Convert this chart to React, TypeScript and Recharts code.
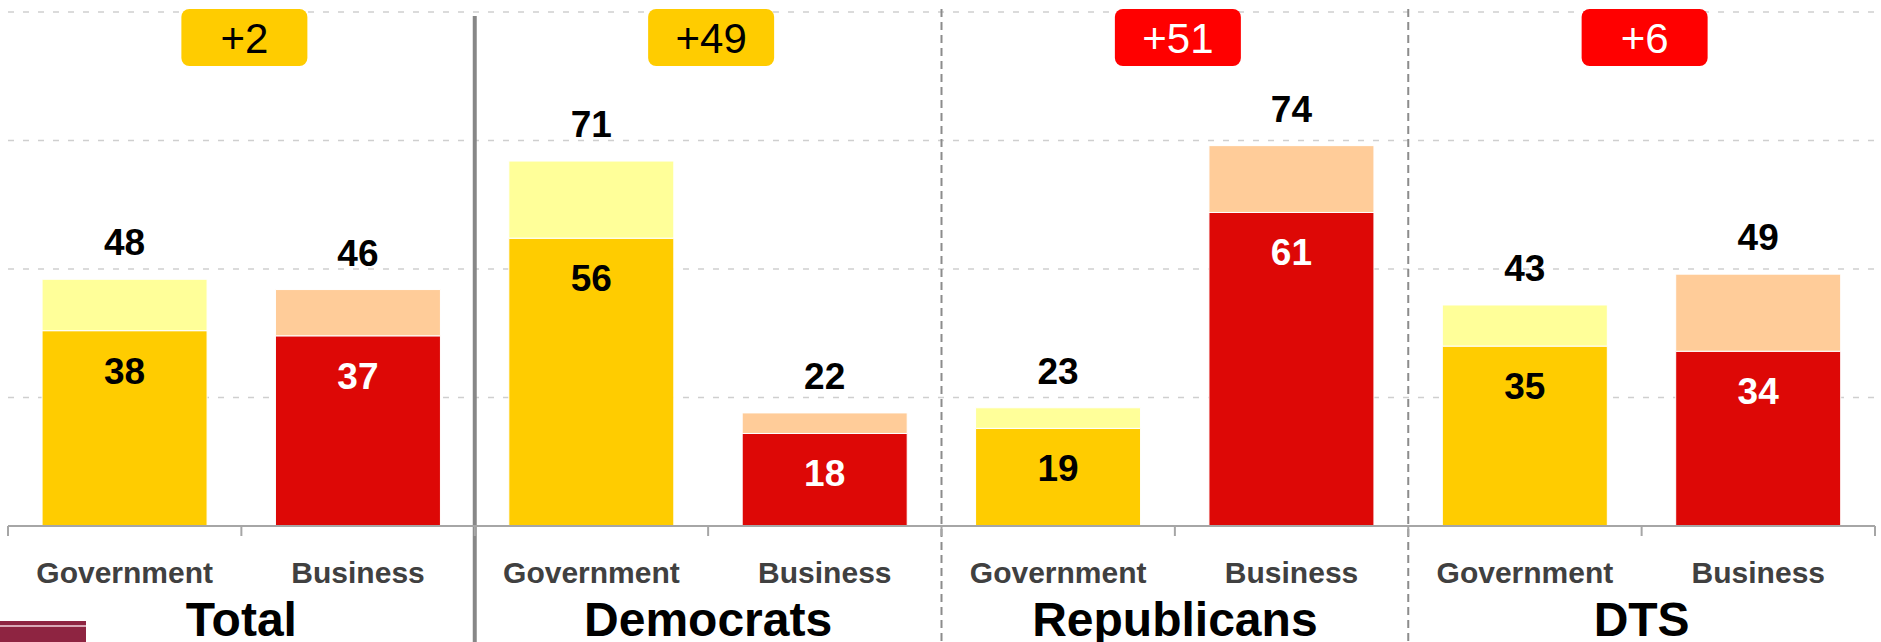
import React from "react";
import {
  BarChart,
  Bar,
  XAxis,
  YAxis,
  CartesianGrid,
  ReferenceLine,
  LabelList,
  Cell,
} from "recharts";

const groups = ["Total", "Democrats", "Republicans", "DTS"];
const sectors = ["Government", "Business"];
// strong share (inner number) and total share (number above the bar)
const strongValues = [38, 37, 56, 18, 19, 61, 35, 34];
const totalValues = [48, 46, 71, 22, 23, 74, 43, 49];
const gapLabels = ["+2", "+49", "+51", "+6"];
const yTicks = [0, 25, 50, 75, 100];

const FONT = "'Liberation Sans', Arial, sans-serif";
const GOV = "#FFCC00";
const GOV_LIGHT = "#FFFF99";
const BUS = "#DD0806";
const BUS_LIGHT = "#FFCC99";

const rows = groups.flatMap((group, g) =>
  sectors.map((sector, s) => {
    const i = g * 2 + s;
    return {
      key: `${group}|${sector}`,
      group,
      sector,
      strong: strongValues[i],
      rest: totalValues[i] - strongValues[i],
      total: totalValues[i],
    };
  })
);

const SectorTick = (props: any) => {
  const { x, y, payload, index } = props;
  const half = payload?.offset ?? 0;
  const sector = String(payload.value).split("|")[1];
  const last = index === rows.length - 1;
  return (
    <g>
      <line x1={x - half} x2={x - half} y1={y} y2={y + 10} stroke="#A6A6A6" strokeWidth={2} />
      {last && <line x1={x + half} x2={x + half} y1={y} y2={y + 10} stroke="#A6A6A6" strokeWidth={2} />}
      <text x={x} y={y + 57} textAnchor="middle" fontFamily={FONT} fontWeight="bold" fontSize={30} fill="#404040">
        {sector}
      </text>
    </g>
  );
};

const GroupTick = (props: any) => {
  const { x, y, payload } = props;
  return (
    <text x={x} y={y + 48} textAnchor="middle" fontFamily={FONT} fontWeight="bold" fontSize={48} fill="#000">
      {payload.value}
    </text>
  );
};

const BadgeTick = (props: any) => {
  const { x, y, payload } = props;
  const g = groups.indexOf(payload.value);
  const govLeads = totalValues[g * 2] >= totalValues[g * 2 + 1];
  const cx = x + 3;
  return (
    <g>
      <rect x={cx - 63} y={y - 3} width={126} height={57} rx={8} fill={govLeads ? GOV : "#FF0000"} />
      <text x={cx} y={y + 41} textAnchor="middle" fontFamily={FONT} fontSize={42} fill={govLeads ? "#000" : "#fff"}>
        {gapLabels[g]}
      </text>
    </g>
  );
};

const StrongLabel = (props: any) => {
  const { x, y, width, value, index } = props;
  const isGov = rows[index].sector === "Government";
  return (
    <text x={x + width / 2} y={y + 53} textAnchor="middle" fontFamily={FONT} fontWeight="bold" fontSize={37} fill={isGov ? "#000" : "#fff"}>
      {value}
    </text>
  );
};

const TotalLabel = (props: any) => {
  const { x, y, width, value } = props;
  return (
    <text x={x + width / 2} y={y - 24} textAnchor="middle" fontFamily={FONT} fontWeight="bold" fontSize={37} fill="#000">
      {value}
    </text>
  );
};

const separator = (solid: boolean) => (p: any) => {
  const top = Math.min(p.y1, p.y2);
  const bottom = Math.max(p.y1, p.y2);
  return (
    <line
      x1={p.x1}
      x2={p.x2}
      y1={solid ? top + 4 : top - 3}
      y2={bottom + 116}
      stroke={solid ? "#878787" : "#8C8C8C"}
      strokeWidth={solid ? 4 : 2}
      strokeDasharray={solid ? undefined : "8 5"}
    />
  );
};

export default function App() {
  return (
    <div style={{ position: "absolute", left: 0, top: 0, width: 1881, height: 642, background: "#fff", overflow: "hidden" }}>
      <BarChart
        width={1881}
        height={642}
        data={rows}
        margin={{ top: 0, right: 6, left: 8, bottom: 0 }}
        barCategoryGap="14.6%"
      >
        <CartesianGrid vertical={false} stroke="#CFCFCF" strokeDasharray="6 9" strokeWidth={1.5} />
        <YAxis hide domain={[0, 100]} ticks={yTicks} />
        <XAxis
          xAxisId="badge"
          orientation="top"
          dataKey="group"
          allowDuplicatedCategory={false}
          height={12}
          axisLine={false}
          tickLine={false}
          tickSize={0}
          tickMargin={0}
          interval={0}
          tick={BadgeTick}
        />
        <XAxis
          dataKey="key"
          height={62}
          interval={0}
          tickLine={false}
          tickSize={0}
          tickMargin={0}
          axisLine={{ stroke: "#A6A6A6", strokeWidth: 2 }}
          tick={SectorTick}
        />
        <XAxis
          xAxisId="group"
          dataKey="group"
          allowDuplicatedCategory={false}
          height={54}
          interval={0}
          axisLine={false}
          tickLine={false}
          tickSize={0}
          tickMargin={0}
          tick={GroupTick}
        />
        <Bar dataKey="strong" stackId="a" stroke="#fff" strokeWidth={1} isAnimationActive={false}>
          {rows.map((r) => (
            <Cell key={r.key} fill={r.sector === "Government" ? GOV : BUS} />
          ))}
          <LabelList dataKey="strong" content={StrongLabel} />
        </Bar>
        <Bar dataKey="rest" stackId="a" stroke="#fff" strokeWidth={1} isAnimationActive={false}>
          {rows.map((r) => (
            <Cell key={r.key} fill={r.sector === "Government" ? GOV_LIGHT : BUS_LIGHT} />
          ))}
          <LabelList dataKey="total" content={TotalLabel} />
        </Bar>
        <ReferenceLine x="Democrats|Government" position="start" ifOverflow="visible" shape={separator(true)} />
        <ReferenceLine x="Republicans|Government" position="start" ifOverflow="visible" shape={separator(false)} />
        <ReferenceLine x="DTS|Government" position="start" ifOverflow="visible" shape={separator(false)} />
      </BarChart>
      <div style={{ position: "absolute", left: 0, top: 621, width: 86, height: 21, background: "#8E2441" }}>
        <div style={{ marginTop: 4, height: 2, background: "#D9A8B6" }} />
      </div>
    </div>
  );
}
